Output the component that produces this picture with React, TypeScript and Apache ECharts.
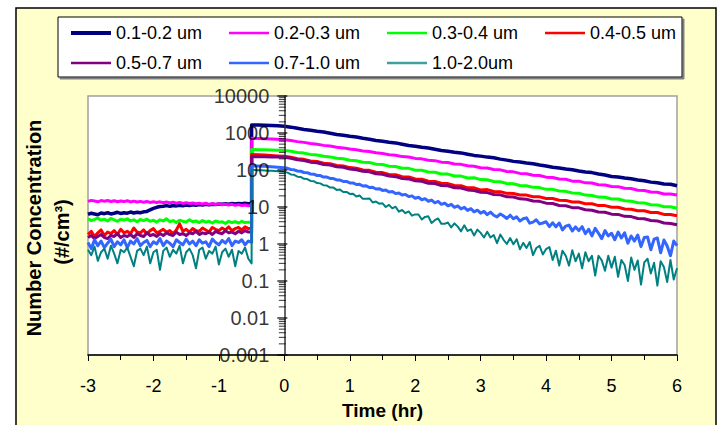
import React, { useEffect, useRef } from "react";
import * as echarts from "echarts";

const SERIES_NAMES = ["0.1-0.2 um", "0.2-0.3 um", "0.3-0.4 um", "0.4-0.5 um", "0.5-0.7 um", "0.7-1.0 um", "1.0-2.0um"];
const COLORS = ["#000080", "#FF00FF", "#00FF00", "#FF0000", "#800080", "#3366FF", "#008080"];
const LEGEND_COLORS = ["#000080", "#FF00FF", "#00FF00", "#FF0000", "#800080", "#3366FF", "#40A0A0"];
const LINE_WIDTHS = [3.5, 3, 3, 3, 3, 3, 2];
const LEGEND_WIDTHS = [4, 2.5, 2.5, 2.5, 2.5, 2.5, 2.5];

// Time grids (hr)
const PRE_T = [-3.0, -2.95, -2.9, -2.85, -2.8, -2.75, -2.7, -2.65, -2.6, -2.55, -2.5, -2.45, -2.4, -2.35, -2.3, -2.25, -2.2, -2.15, -2.1, -2.05, -2.0, -1.95, -1.9, -1.85, -1.8, -1.75, -1.7, -1.65, -1.6, -1.55, -1.5, -1.45, -1.4, -1.35, -1.3, -1.25, -1.2, -1.15, -1.1, -1.05, -1.0, -0.95, -0.9, -0.85, -0.8, -0.75, -0.7, -0.65, -0.6, -0.55, -0.5];
const POST_T = [-0.5, -0.4, -0.3, -0.2, -0.1, 0.0, 0.1, 0.2, 0.3, 0.4, 0.5, 0.6, 0.7, 0.8, 0.9, 1.0, 1.1, 1.2, 1.3, 1.4, 1.5, 1.6, 1.7, 1.8, 1.9, 2.0, 2.1, 2.2, 2.3, 2.4, 2.5, 2.6, 2.7, 2.8, 2.9, 3.0, 3.1, 3.2, 3.3, 3.4, 3.5, 3.6, 3.7, 3.8, 3.9, 4.0, 4.1, 4.2, 4.3, 4.4, 4.5, 4.6, 4.7, 4.8, 4.9, 5.0, 5.1, 5.2, 5.3, 5.4, 5.5, 5.6, 5.7, 5.8, 5.9, 6.0];
const POST_T_FINE = [-0.5, -0.45, -0.4, -0.35, -0.3, -0.25, -0.2, -0.15, -0.1, -0.05, 0.0,
  0.05, 0.1, 0.15, 0.2, 0.25, 0.3, 0.35, 0.4, 0.45, 0.5, 0.55, 0.6, 0.65, 0.7, 0.75, 0.8, 0.85, 0.9, 0.95, 1.0,
  1.05, 1.1, 1.15, 1.2, 1.25, 1.3, 1.35, 1.4, 1.45, 1.5, 1.55, 1.6, 1.65, 1.7, 1.75, 1.8, 1.85, 1.9, 1.95, 2.0,
  2.05, 2.1, 2.15, 2.2, 2.25, 2.3, 2.35, 2.4, 2.45, 2.5, 2.55, 2.6, 2.65, 2.7, 2.75, 2.8, 2.85, 2.9, 2.95, 3.0,
  3.05, 3.1, 3.15, 3.2, 3.25, 3.3, 3.35, 3.4, 3.45, 3.5, 3.55, 3.6, 3.65, 3.7, 3.75, 3.8, 3.85, 3.9, 3.95, 4.0,
  4.05, 4.1, 4.15, 4.2, 4.25, 4.3, 4.35, 4.4, 4.45, 4.5, 4.55, 4.6, 4.65, 4.7, 4.75, 4.8, 4.85, 4.9, 4.95, 5.0,
  5.05, 5.1, 5.15, 5.2, 5.25, 5.3, 5.35, 5.4, 5.45, 5.5, 5.55, 5.6, 5.65, 5.7, 5.75, 5.8, 5.85, 5.9, 5.95, 6.0];

// Background (before exposure) values, #/cm3
const NAVY_PRE = [6.3, 6.8, 6.5, 6.2, 6.9, 6.6, 7.0, 6.5, 6.8, 7.2, 6.7, 7.0, 6.8, 7.3, 6.9, 7.2, 7.0, 7.4, 7.6, 8.4, 9.2, 9.8, 10.3, 10.5, 10.9, 10.4, 11.0, 10.7, 11.2, 10.8, 11.3, 11.0, 11.5, 11.1, 11.6, 11.3, 11.8, 11.4, 11.9, 11.6, 12.1, 11.8, 12.2, 11.9, 12.4, 12.0, 12.5, 12.2, 12.6, 12.3, 12.5];
const MAGENTA_PRE = [14.2, 15.1, 14.5, 13.8, 14.9, 14.3, 15.0, 14.1, 14.7, 13.9, 14.6, 14.0, 14.8, 13.7, 14.4, 13.6, 14.2, 13.5, 14.1, 13.3, 13.9, 13.2, 13.8, 13.0, 13.6, 12.9, 13.5, 12.7, 13.3, 12.5, 13.1, 12.4, 12.9, 12.2, 12.7, 12.0, 12.6, 11.8, 12.4, 11.7, 12.2, 11.5, 12.0, 11.3, 11.8, 11.1, 11.6, 11.0, 11.3, 10.8, 11.0];
const GREEN_PRE = [4.8, 4.3, 4.6, 5.0, 4.4, 4.7, 4.2, 4.9, 4.5, 4.1, 4.7, 4.4, 4.8, 4.2, 4.5, 4.0, 4.6, 4.3, 4.7, 4.1, 4.4, 3.9, 4.5, 4.2, 4.8, 4.0, 4.3, 3.8, 4.4, 4.1, 3.9, 4.5, 4.0, 4.2, 3.8, 4.3, 3.9, 4.1, 3.7, 4.2, 3.9, 4.0, 3.6, 4.1, 3.8, 4.0, 3.7, 4.1, 3.8, 3.9, 3.8];
const RED_PRE = [1.8, 2.2, 1.6, 2.0, 2.4, 1.7, 2.1, 1.9, 2.3, 1.8, 2.5, 2.0, 2.2, 1.9, 2.7, 2.1, 2.0, 2.4, 1.9, 2.3, 2.6, 2.0, 2.2, 2.5, 2.1, 2.3, 1.9, 2.4, 3.5, 2.2, 2.5, 2.1, 2.6, 2.3, 2.2, 2.7, 2.4, 2.1, 2.8, 2.5, 2.3, 2.7, 2.4, 2.9, 2.3, 2.6, 2.8, 2.4, 2.9, 2.6, 2.7];
const PURPLE_PRE = [1.5, 1.7, 1.4, 1.6, 1.8, 1.5, 1.4, 1.7, 1.6, 1.9, 1.5, 1.7, 1.6, 1.8, 1.5, 1.9, 1.7, 1.6, 2.0, 1.7, 1.8, 1.6, 1.9, 1.7, 2.0, 1.8, 1.7, 2.1, 1.8, 1.9, 1.7, 2.0, 1.9, 2.2, 1.8, 2.0, 1.9, 2.1, 1.8, 2.2, 2.0, 1.9, 2.3, 2.0, 2.1, 1.9, 2.2, 2.0, 2.3, 2.1, 2.1];
const BLUE_PRE = [1.1, 0.75, 1.3, 0.9, 1.2, 0.8, 1.05, 1.35, 0.85, 1.15, 0.95, 1.3, 0.8, 1.2, 1.0, 1.4, 0.9, 1.1, 1.25, 0.85, 1.15, 1.0, 1.4, 0.9, 1.2, 1.05, 0.85, 1.3, 1.1, 0.95, 1.35, 1.0, 1.2, 0.9, 1.3, 1.05, 1.15, 0.85, 1.35, 1.1, 0.95, 1.25, 1.05, 1.4, 0.9, 1.2, 1.1, 1.3, 0.95, 1.2, 1.1];
const TEAL_PRE = [0.7, 0.5, 0.85, 0.35, 0.6, 0.75, 0.4, 0.9, 0.55, 0.3, 0.7, 0.6, 0.8, 0.45, 0.25, 0.65, 0.75, 0.5, 0.85, 0.3, 0.6, 0.7, 0.2, 0.65, 0.8, 0.45, 0.7, 0.55, 0.9, 0.3, 0.6, 0.75, 0.5, 0.22, 0.7, 0.8, 0.4, 0.65, 0.55, 0.85, 0.28, 0.6, 0.75, 0.45, 0.7, 0.25, 0.65, 0.55, 0.8, 0.4, 0.3];

// Exposure and decay values, #/cm3 (on POST_T)
const NAVY_POST = [1650, 1645, 1625, 1600, 1565, 1515, 1440, 1338, 1240, 1182, 1111, 1060, 982, 910, 868, 816, 775, 721, 678, 630, 599, 563, 540, 497, 460, 440, 413, 395, 365, 338, 323, 303, 290, 268, 248, 237, 223, 214, 197, 185, 171, 164, 154, 148, 136, 128, 118, 113, 106, 102, 94, 88, 85, 78, 73, 67, 65, 61, 58, 54, 51, 47, 45, 42, 41, 37.5];
const MAGENTA_POST = [720, 712, 702, 690, 676, 660, 628, 585, 558, 520, 498, 463, 444, 412, 396, 368, 353, 327, 315, 291, 281, 259, 251, 230, 224, 206, 200, 183, 179, 163, 159, 146, 142, 130, 126, 115, 113, 103, 101, 91, 89, 81, 79.5, 72, 71, 64, 63, 57, 56, 50, 50, 45, 44.5, 40, 39.5, 36, 35.5, 32, 31.5, 28.5, 28, 25.5, 25, 22.5, 22.5, 21];
const GREEN_POST = [358, 354, 350, 346, 343, 339, 322, 298, 286, 264, 254, 234, 226, 207, 201, 183, 178, 162, 159, 144, 141, 127, 124, 112, 111, 99, 98, 88.5, 87, 78, 77.5, 69, 68.5, 61, 61.5, 55, 54.5, 49, 48, 43, 42.5, 38, 37.5, 34, 33.5, 30, 30, 27, 26.5, 24, 23.5, 21, 20.5, 18.5, 18.4, 16.5, 16.4, 14.7, 14.4, 13, 12.9, 11.5, 11.4, 10.2, 10.1, 9.3];
const RED_POST = [262, 258, 253, 246, 240, 235, 222, 203, 194, 175, 169, 152, 148, 132, 129, 116, 112, 100, 98, 87, 85, 76, 74.5, 66, 65, 57, 56.5, 50, 49, 44, 43, 38, 37.5, 33, 33, 29, 29.5, 26.2, 26, 23.4, 23.2, 21, 21, 18.9, 18.8, 16.9, 17, 15.2, 15.1, 13.6, 13.6, 12.2, 12.2, 10.9, 10.9, 9.8, 9.8, 8.8, 8.7, 7.9, 7.9, 7.1, 7.1, 6.3, 6.3, 5.8];
const PURPLE_POST = [228, 229, 227, 225, 223, 220, 207, 189, 180, 163, 157, 141, 136, 122, 118, 106, 102, 92, 89, 79, 77, 68.5, 66, 59, 57.5, 51, 49.5, 44, 43, 38, 37.5, 33, 32.5, 29, 28, 25, 24.5, 21.8, 21.3, 19, 18.6, 16.6, 16.2, 14.5, 14.2, 12.7, 12.4, 11, 10.8, 9.6, 9.5, 8.4, 8.2, 7.3, 7.2, 6.4, 6.3, 5.6, 5.5, 4.9, 4.8, 4.3, 4.2, 3.7, 3.6, 3.3];
// (on POST_T_FINE)
const BLUE_POST = [130, 129, 128, 127, 126, 124, 122, 120.5, 119, 117, 115,
  111, 103, 101, 94, 92.5, 85.5, 84.5, 78, 77, 71,
  70.5, 64.5, 64.5, 59, 58.8, 53.8, 53.5, 49, 49, 44.8,
  44.8, 40.6, 41, 37, 37.4, 33.7, 34.2, 30.6, 31.3, 28.1,
  28.6, 25.4, 26.3, 23, 24, 21, 21.9, 19.1, 20, 17.3,
  18.3, 15.7, 16.8, 14.3, 15.4, 13, 14.1, 11.8, 12.8, 10.8,
  11.8, 9.8, 10.7, 8.9, 9.8, 8.1, 9.0, 7.4, 8.2, 6.8,
  7.6, 6.2, 7.3, 6.0, 5.4, 6.5, 5.7, 4.9, 6.0, 4.8,
  5.4, 4.2, 4.8, 5.1, 3.65, 3.9, 4.5, 3.5, 3.7, 4.0,
  2.95, 3.75, 2.9, 3.7, 2.4, 3.05, 3.25, 2.25, 2.9, 2.3,
  2.95, 1.9, 2.5, 1.65, 2.65, 1.95, 1.4, 2.3, 1.65, 1.95,
  1.3, 2.1, 1.45, 2.0, 1.05, 1.65, 1.2, 1.75, 0.85, 1.5,
  1.55, 0.7, 1.35, 1.45, 0.58, 1.28, 0.88, 0.48, 1.2, 0.9];
const TEAL_POST = [100, 99.5, 99, 98, 97, 96, 95, 94, 92, 90.5, 89,
  85, 76, 74, 66, 65, 58, 57, 50.5, 50, 44.5,
  43.5, 38.5, 38, 33.5, 33.5, 29, 29.5, 25.5, 25.5, 22.5,
  22.9, 19.3, 20.5, 16.6, 16.6, 17.0, 13.3, 14.0, 12.3, 12.6,
  10.0, 11.4, 9.2, 10.2, 7.5, 8.3, 6.8, 7.6, 5.85, 6.3,
  6.3, 4.6, 5.4, 5.6, 3.7, 4.4, 4.9, 3.5, 3.5, 3.8,
  2.8, 3.6, 2.95, 2.2, 3.2, 2.25, 2.5, 1.7, 2.45, 2.0,
  1.5, 2.15, 1.5, 1.75, 1.05, 1.8, 1.3, 1.0, 1.45, 0.98,
  1.35, 0.72, 1.07, 0.78, 1.13, 0.5, 0.78, 0.89, 0.52, 0.73,
  0.83, 0.37, 0.66, 0.26, 0.66, 0.48, 0.26, 0.68, 0.34, 0.55,
  0.22, 0.6, 0.34, 0.48, 0.14, 0.48, 0.36, 0.19, 0.48, 0.23,
  0.45, 0.13, 0.37, 0.27, 0.1, 0.43, 0.2, 0.36, 0.08, 0.32,
  0.4, 0.16, 0.31, 0.075, 0.34, 0.24, 0.094, 0.37, 0.11, 0.22];

const PRE = [NAVY_PRE, MAGENTA_PRE, GREEN_PRE, RED_PRE, PURPLE_PRE, BLUE_PRE, TEAL_PRE];
const POST = [NAVY_POST, MAGENTA_POST, GREEN_POST, RED_POST, PURPLE_POST, BLUE_POST, TEAL_POST];
const POST_TIMES = [POST_T, POST_T, POST_T, POST_T, POST_T, POST_T_FINE, POST_T_FINE];

// Axis tick values
const Y_MAJOR = [0.001, 0.01, 0.1, 1, 10, 100, 1000, 10000];
const Y_MINOR_STEPS = [2, 3, 4, 5, 6, 7, 8, 9];

// Legend layout
const LEGEND_POS = [[71, 24], [229, 24], [387, 24], [545, 24], [71, 54], [229, 54], [387, 54]];

const FONT = "'Liberation Sans', Arial, Helvetica, sans-serif";

export default function App() {
  const ref = useRef<HTMLDivElement>(null);
  useEffect(() => {
    const chart = echarts.init(ref.current as HTMLDivElement, null, { renderer: "svg" });
    const minor: number[][] = [];
    Y_MAJOR.slice(0, -1).forEach((d) => Y_MINOR_STEPS.forEach((m) => minor.push([0, m * d])));

    const lineSeries = SERIES_NAMES.map((name, k) => ({
      name,
      type: "line",
      symbol: "none",
      showSymbol: false,
      silent: true,
      clip: true,
      data: [
        ...PRE_T.map((t, i) => [t, PRE[k][i]]),
        ...POST_TIMES[k].map((t, i) => [t, POST[k][i]]),
      ],
      lineStyle: { color: COLORS[k], width: LINE_WIDTHS[k], join: "round" },
      itemStyle: { color: COLORS[k] },
      emphasis: { disabled: true },
    }));

    const option: any = {
      animation: false,
      backgroundColor: "#ffffff",
      textStyle: { fontFamily: FONT },
      grid: {
        left: 88,
        right: 43,
        top: 96,
        bottom: 68,
        show: true,
        backgroundColor: "#ffffff",
        borderColor: "#a0a0a0",
        borderWidth: 1.5,
      },
      legend: SERIES_NAMES.map((name, k) => ({
        data: [{ name, itemStyle: { color: LEGEND_COLORS[k] } }],
        left: LEGEND_POS[k][0],
        top: LEGEND_POS[k][1],
        padding: 0,
        icon: "rect",
        itemWidth: 40,
        itemHeight: LEGEND_WIDTHS[k],
        selectedMode: false,
        textStyle: { fontSize: 18, fontFamily: FONT, color: "#000" },
      })),
      xAxis: {
        type: "value",
        min: -3,
        max: 6,
        interval: 1,
        name: "Time (hr)",
        nameLocation: "middle",
        nameGap: 46,
        nameTextStyle: { fontSize: 19, fontWeight: "bold", color: "#000", fontFamily: FONT },
        axisLine: { onZero: false, lineStyle: { color: "#000", width: 1.5 } },
        axisTick: { show: true, length: 6, lineStyle: { color: "#000", width: 1 } },
        minorTick: { show: true, splitNumber: 2, length: 5, lineStyle: { color: "#000", width: 1 } },
        splitLine: { show: false },
        axisLabel: { fontSize: 18, color: "#000", margin: 22, fontFamily: FONT },
      },
      yAxis: {
        type: "log",
        logBase: 10,
        min: 0.001,
        max: 10000,
        splitNumber: 7,
        z: 5,
        axisLine: { onZero: true, lineStyle: { color: "#333", width: 1.5 } },
        axisTick: { show: false },
        splitLine: { show: false },
        axisLabel: { show: false },
      },
      graphic: [
        {
          type: "rect",
          z: -10,
          shape: { x: 16, y: 8, width: 700, height: 440 },
          style: { fill: "#FFFFCC", stroke: "#000", lineWidth: 1.5 },
        },
        {
          type: "rect",
          z: 1,
          shape: { x: 58, y: 17, width: 624, height: 60 },
          style: { fill: "#fff", stroke: "#000", lineWidth: 1, shadowColor: "#808080", shadowOffsetX: 2, shadowOffsetY: 2, shadowBlur: 0 },
        },
        {
          type: "text",
          x: 34,
          y: 228,
          rotation: Math.PI / 2,
          style: { text: "Number Concentration", font: `bold 20px ${FONT}`, fill: "#000", textAlign: "center", textVerticalAlign: "middle" },
        },
        {
          type: "text",
          x: 62,
          y: 232,
          rotation: Math.PI / 2,
          style: { text: "(#/cm³)", font: `bold 20px ${FONT}`, fill: "#000", textAlign: "center", textVerticalAlign: "middle" },
        },
      ],
      series: [
        ...lineSeries,
        {
          type: "scatter",
          silent: true,
          data: minor,
          symbol: "rect",
          symbolSize: [7, 1],
          symbolOffset: [-2, 0],
          itemStyle: { color: "#000" },
          z: 6,
        },
        {
          type: "scatter",
          silent: true,
          data: Y_MAJOR.map((v) => [0, v]),
          symbol: "rect",
          symbolSize: [10, 1.5],
          symbolOffset: [-2, 0],
          itemStyle: { color: "#000" },
          label: {
            show: true,
            position: "left",
            distance: 8,
            fontSize: 20,
            color: "#000",
            fontFamily: FONT,
            formatter: (p: any) => String(p.value[1]),
          },
          z: 6,
        },
      ],
    };
    chart.setOption(option);
    return () => chart.dispose();
  }, []);
  return <div ref={ref} style={{ position: "fixed", left: 0, top: 0, width: 720, height: 425 }} />;
}
